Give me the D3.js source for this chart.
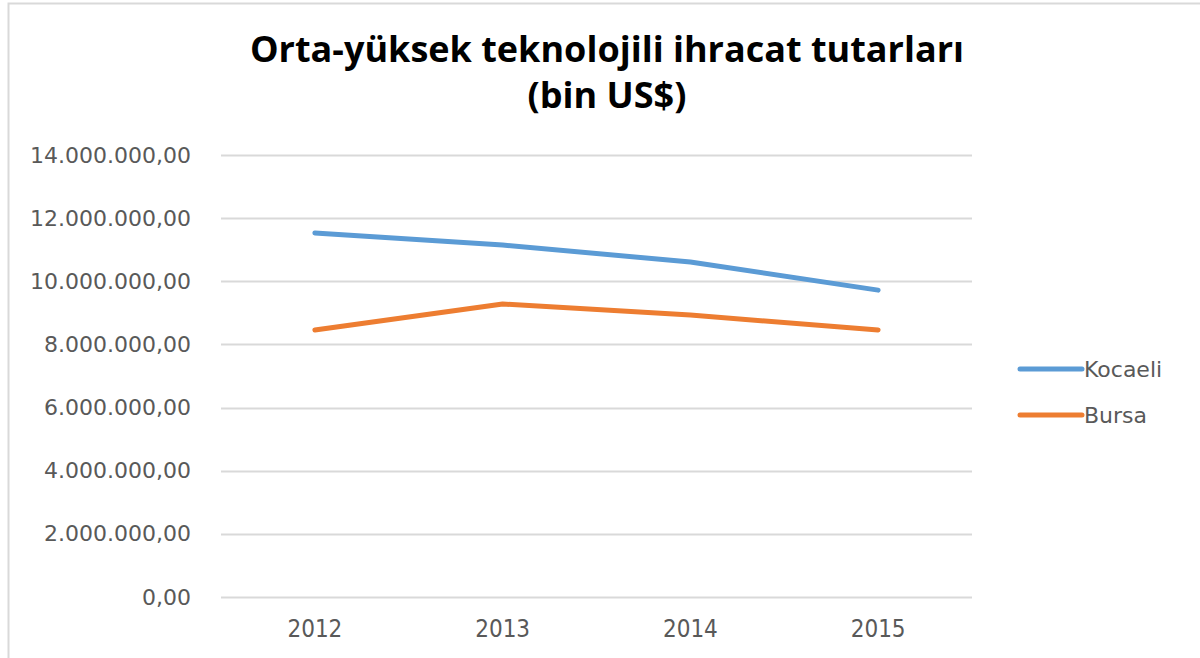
<!DOCTYPE html>
<html>
<head>
<meta charset="utf-8">
<script src="https://cdn.jsdelivr.net/npm/d3@7"></script>
<style>
  body { margin: 0; background: #fff; }
  svg { display: block; }
</style>
</head>
<body>
<div id="canvas"></div>
<script>
const years = ['2012', '2013', '2014', '2015'];
const seriesNames = ['Kocaeli', 'Bursa'];
const kocaeli = [11530000, 11150000, 10610000, 9720000];
const bursa = [8460000, 9280000, 8930000, 8460000];
const yTicks = [0, 2000000, 4000000, 6000000, 8000000, 10000000, 12000000, 14000000];
const titleLines = ['Orta-yüksek teknolojili ihracat tutarları', '(bin US$)'];
const colors = ['#5B9BD5', '#ED7D31'];

const width = 1200, height = 658;
const plot = { left: 221, right: 972, top: 155, bottom: 597 };

const svg = d3.select('#canvas')
  .append('svg')
    .attr('width', width)
    .attr('height', height);

// chart border (only top/left visible in the crop)
svg.append('rect')
  .attr('x', 8.5).attr('y', 3.5)
  .attr('width', 1250).attr('height', 700)
  .attr('fill', 'none')
  .attr('stroke', '#d9d9d9')
  .attr('stroke-width', 2);

const x = d3.scaleBand()
  .domain(years)
  .range([plot.left, plot.right]);

const y = d3.scaleLinear()
  .domain([0, 14000000])
  .range([plot.bottom, plot.top]);

const fmt = v => d3.format(',.2f')(v).replace(/,/g, '#').replace('.', ',').replace(/#/g, '.');

// gridlines
svg.append('g')
  .selectAll('line')
  .data(yTicks)
  .join('line')
    .attr('x1', plot.left)
    .attr('x2', plot.right)
    .attr('y1', d => Math.round(y(d)) + 0.5)
    .attr('y2', d => Math.round(y(d)) + 0.5)
    .attr('stroke', '#d9d9d9')
    .attr('stroke-width', 2);

// y axis labels
const yAxis = svg.append('g')
  .attr('transform', `translate(${plot.left - 27},0)`)
  .call(d3.axisLeft(y).tickValues(yTicks).tickFormat(fmt).tickSize(0));
yAxis.select('.domain').remove();
yAxis.selectAll('text')
  .attr('fill', '#595959')
  .attr('font-family', 'DejaVu Sans')
  .attr('font-size', 22);

// x axis labels
const xAxis = svg.append('g')
  .attr('transform', `translate(0,${plot.bottom + 20})`)
  .call(d3.axisBottom(x).tickSize(0));
xAxis.select('.domain').remove();
xAxis.selectAll('text')
  .attr('fill', '#595959')
  .attr('font-family', 'DejaVu Sans Condensed, DejaVu Sans')
  .attr('font-size', 24);

// lines
const line = d3.line()
  .x((d, i) => x(years[i]) + x.bandwidth() / 2)
  .y(d => y(d));

svg.append('g')
  .selectAll('path')
  .data([kocaeli, bursa])
  .join('path')
    .attr('d', line)
    .attr('fill', 'none')
    .attr('stroke', (d, i) => colors[i])
    .attr('stroke-width', 5)
    .attr('stroke-linecap', 'round')
    .attr('stroke-linejoin', 'round');

// title
svg.append('text')
  .attr('x', 607)
  .attr('y', 62)
  .attr('text-anchor', 'middle')
  .attr('font-family', 'Open Sans')
  .attr('font-weight', 'bold')
  .attr('font-size', 36)
  .attr('fill', '#000')
  .selectAll('tspan')
  .data(titleLines)
  .join('tspan')
    .attr('x', 607)
    .attr('dy', (d, i) => i === 0 ? 0 : 46)
    .text(d => d);

// legend
const legend = svg.append('g')
  .selectAll('g')
  .data(seriesNames)
  .join('g')
    .attr('transform', (d, i) => `translate(1020,${369 + i * 46})`);
legend.append('line')
  .attr('x1', 0).attr('x2', 62)
  .attr('stroke', (d, i) => colors[i])
  .attr('stroke-width', 5)
  .attr('stroke-linecap', 'round');
legend.append('text')
  .attr('x', 64)
  .attr('dy', '0.35em')
  .attr('font-family', 'DejaVu Sans')
  .attr('font-size', 22)
  .attr('fill', '#595959')
  .text(d => d);
</script>
</body>
</html>
